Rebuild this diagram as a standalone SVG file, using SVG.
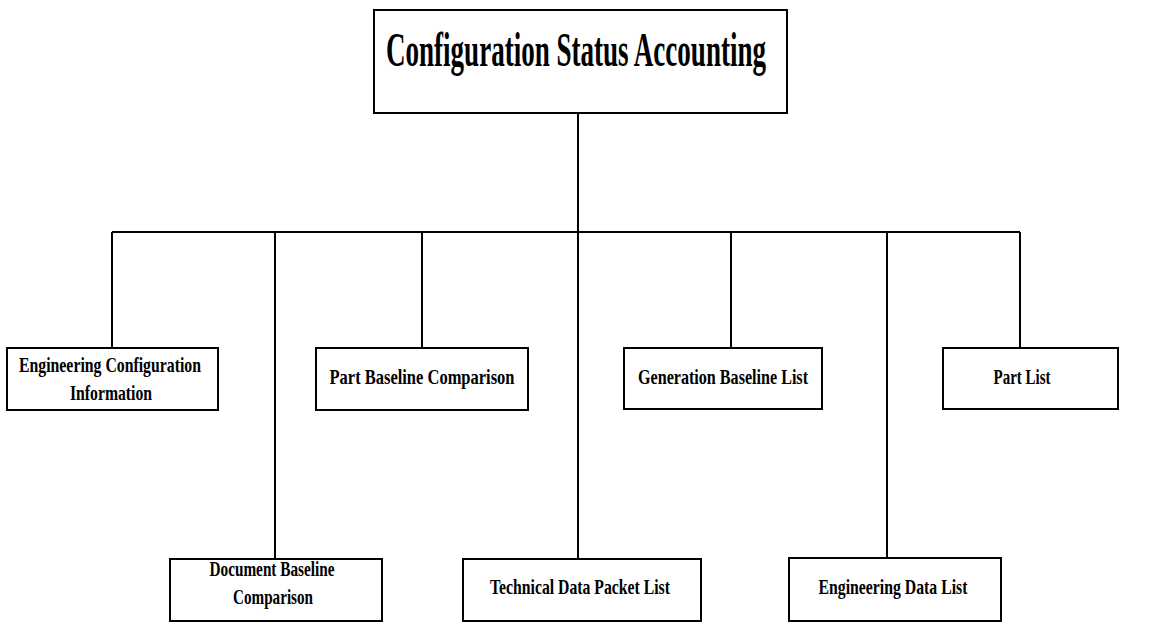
<svg xmlns="http://www.w3.org/2000/svg" width="1159" height="624" viewBox="0 0 1159 624">
<style>
.box{fill:#fff;stroke:#000;stroke-width:2}
.ln{stroke:#000;stroke-width:2;fill:none}
.t{font-family:"Liberation Serif",serif;font-weight:bold;fill:#000;text-anchor:middle}
.s{font-size:21px}
.big{font-size:48px}
</style>
<rect width="1159" height="624" fill="#fff"/>
<g id="connectors">
<line class="ln" x1="578" y1="113" x2="578" y2="559"/>
<line class="ln" x1="112" y1="232" x2="1020" y2="232"/>
<line class="ln" x1="112" y1="232" x2="112" y2="348"/>
<line class="ln" x1="275" y1="232" x2="275" y2="559"/>
<line class="ln" x1="422" y1="232" x2="422" y2="348"/>
<line class="ln" x1="731" y1="232" x2="731" y2="348"/>
<line class="ln" x1="887" y1="232" x2="887" y2="558"/>
<line class="ln" x1="1020" y1="232" x2="1020" y2="348"/>
</g>
<g id="root">
<rect class="box" x="374" y="10" width="413" height="103"/>
<text class="t big" x="576" y="66" textLength="380" lengthAdjust="spacingAndGlyphs">Configuration Status Accounting</text>
</g>
<g id="eci">
<rect class="box" x="7" y="348" width="211" height="62"/>
<text class="t s" x="110" y="372" textLength="182" lengthAdjust="spacingAndGlyphs">Engineering Configuration</text>
<text class="t s" x="111" y="400" textLength="82" lengthAdjust="spacingAndGlyphs">Information</text>
</g>
<g id="pbc">
<rect class="box" x="316" y="348" width="212" height="62"/>
<text class="t s" x="422" y="384" textLength="185" lengthAdjust="spacingAndGlyphs">Part Baseline Comparison</text>
</g>
<g id="gbl">
<rect class="box" x="624" y="348" width="198" height="61"/>
<text class="t s" x="723" y="384" textLength="170" lengthAdjust="spacingAndGlyphs">Generation Baseline List</text>
</g>
<g id="pl">
<rect class="box" x="943" y="348" width="175" height="61"/>
<text class="t s" x="1022" y="384" textLength="57" lengthAdjust="spacingAndGlyphs">Part List</text>
</g>
<g id="dbc">
<rect class="box" x="170" y="559" width="212" height="62"/>
<text class="t s" x="272" y="576" textLength="125" lengthAdjust="spacingAndGlyphs">Document Baseline</text>
<text class="t s" x="273" y="604" textLength="80" lengthAdjust="spacingAndGlyphs">Comparison</text>
</g>
<g id="tdp">
<rect class="box" x="463" y="559" width="238" height="62"/>
<text class="t s" x="580" y="594" textLength="180" lengthAdjust="spacingAndGlyphs">Technical Data Packet List</text>
</g>
<g id="edl">
<rect class="box" x="789" y="558" width="212" height="63"/>
<text class="t s" x="893" y="594" textLength="149" lengthAdjust="spacingAndGlyphs">Engineering Data List</text>
</g>
</svg>
